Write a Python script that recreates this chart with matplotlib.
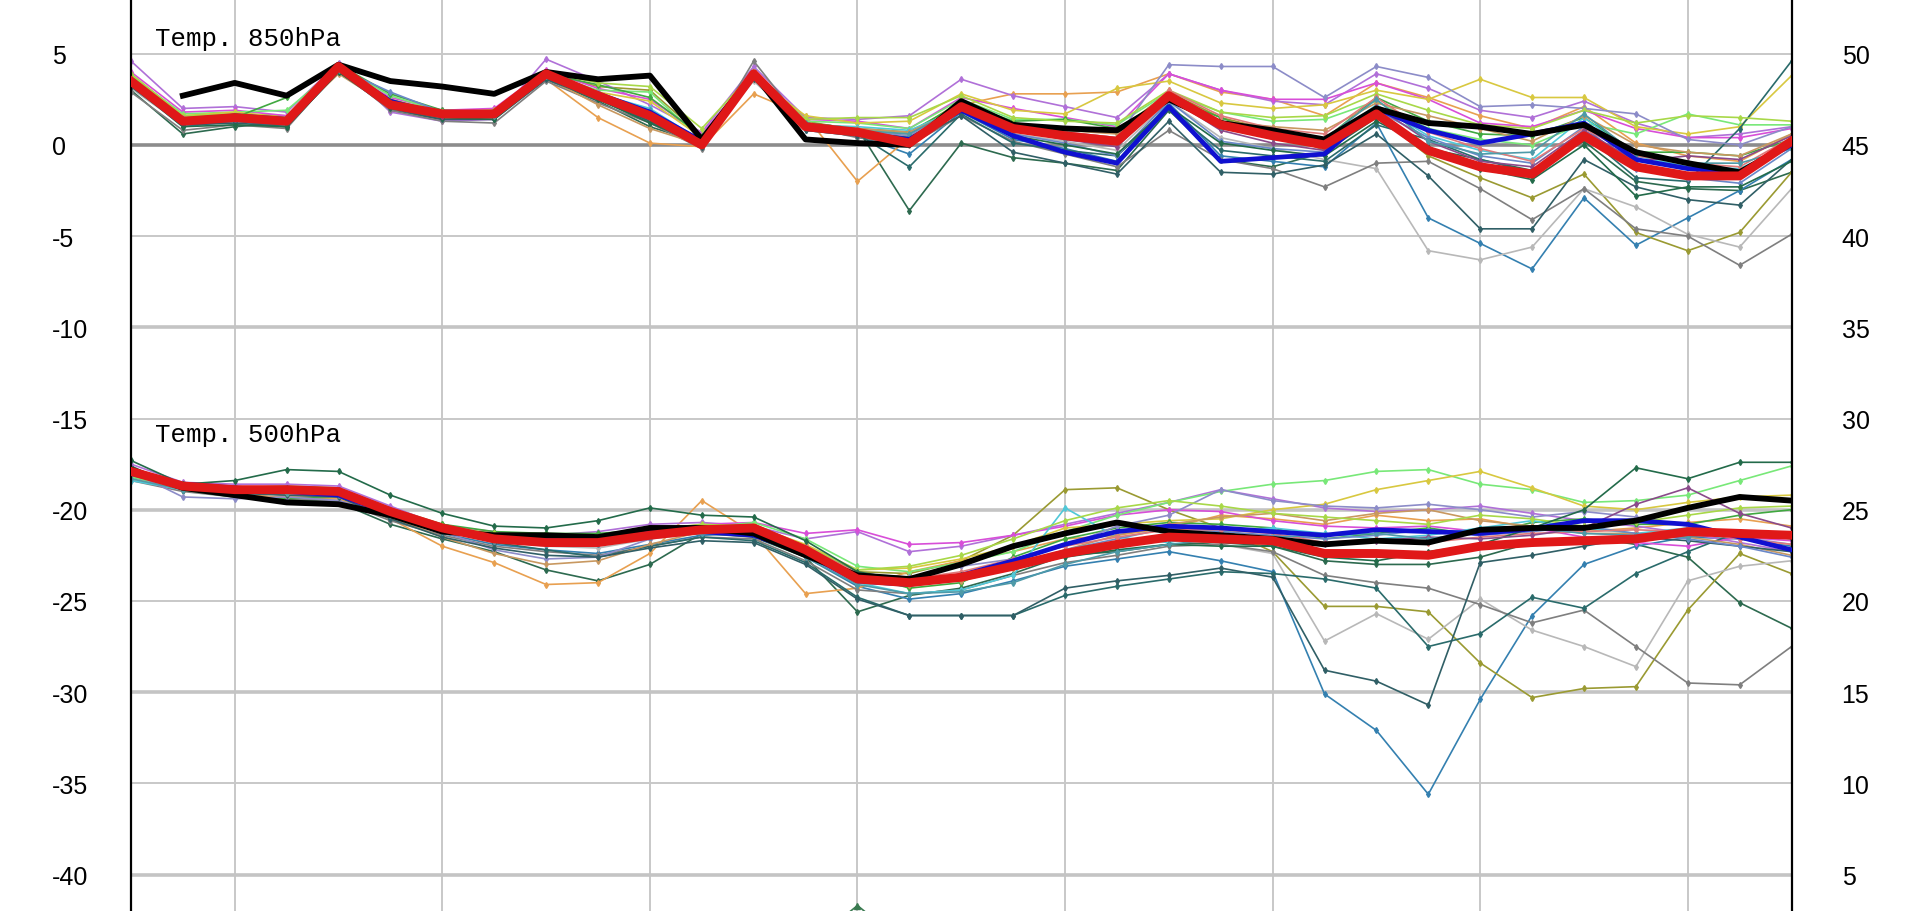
import numpy as np
import matplotlib
matplotlib.use("Agg")
import matplotlib.pyplot as plt

plt.rcParams["axes.unicode_minus"] = False

nan = np.nan
steps = list(range(33))

# Thick lines, 850 hPa
mean_850 = [3.5, 1.3, 1.5, 1.3, 4.3, 2.2, 1.7, 1.7, 3.9, 2.7, 1.6, 0.0, 3.9, 1.0, 0.7, 0.1, 2.1,
            0.9, 0.5, 0.2, 2.7, 1.1, 0.5, 0.0, 1.7, -0.3, -1.2, -1.6, 0.5, -1.2, -1.7, -1.7, 0.2]
oper_850 = [nan, 2.7, 3.4, 2.7, 4.4, 3.5, 3.2, 2.8, 4.0, 3.6, 3.8, 0.3, 3.9, 0.3, 0.1, 0.0, 2.4,
            1.1, 0.9, 0.8, 2.5, 1.2, 0.8, 0.3, 2.0, 1.2, 1.0, 0.6, 1.1, -0.4, -1.0, -1.5, 0.1]
ctrl_850 = [3.4, 1.2, 1.6, 1.4, 4.2, 2.4, 1.6, 1.8, 3.8, 2.8, 1.8, 0.2, 3.8, 1.1, 0.6, 0.3, 1.9,
            0.5, -0.4, -1.0, 2.1, -0.9, -0.7, -0.5, 2.0, 0.8, 0.1, 0.6, 1.2, -0.8, -1.3, -1.5, 0.0]

# Thick lines, 500 hPa
mean_500 = [-17.9, -18.7, -18.9, -18.9, -19.0, -20.1, -21.0, -21.6, -21.8, -21.8, -21.4, -21.1,
            -21.0, -22.2, -23.8, -24.0, -23.7, -23.1, -22.4, -21.9, -21.5, -21.6, -21.7, -22.4,
            -22.4, -22.5, -22.0, -21.8, -21.7, -21.6, -21.2, -21.3, -21.4]
oper_500 = [-17.8, -18.8, -19.2, -19.6, -19.7, -20.3, -21.2, -21.4, -21.4, -21.5, -21.0, -21.0,
            -21.3, -22.5, -23.6, -23.8, -23.0, -22.0, -21.3, -20.7, -21.2, -21.4, -21.6, -21.9,
            -21.7, -21.8, -21.1, -21.0, -21.0, -20.6, -19.9, -19.3, -19.5]
ctrl_500 = [-18.0, -18.6, -18.8, -19.0, -19.2, -20.2, -21.1, -21.5, -21.6, -21.6, -21.2, -21.2,
            -21.4, -22.4, -23.9, -24.1, -23.6, -22.8, -21.9, -21.2, -20.9, -21.0, -21.2, -21.4,
            -21.1, -21.2, -21.3, -21.05, -20.6, -20.6, -20.8, -21.5, -22.2]

member_colors = ["#2d6a4f", "#3480b0", "#9a9a32", "#e8a050", "#b070d8", "#d84ed8", "#78e878",
                 "#d8c840", "#b8b8b8", "#7f7f7f", "#2a6b6b", "#40a840", "#50c8d8", "#8c8cc8",
                 "#c89860", "#305f66", "#6a88c8", "#a8d848", "#e07a7a", "#236b4a", "#8a4a8a",
                 "#4e9aa8"]

members_850 = [
    [3.0, 0.6, 1.0, 1.2, 4.3, 1.9, 1.4, 1.5, 3.6, 2.4, 1.0, 0.1, 3.7, 1.2, 0.9, -3.6, 0.1, -0.7, -1.0, -1.4, 1.9, -0.8, -1.2, -0.4, 1.5, -0.2, -0.8, -1.4, 0.2, -2.0, -2.4, -2.5, -1.5],
    [3.3, 1.0, 1.3, 1.0, 4.0, 2.0, 1.5, 1.6, 3.7, 2.5, 1.3, -0.1, 3.6, 0.8, 0.5, -0.5, 1.8, 0.3, -0.2, -0.9, 2.3, -0.6, -0.9, -1.2, 1.2, -4.0, -5.4, -6.8, -2.9, -5.5, -4.0, -2.5, -0.8],
    [3.6, 1.5, 1.7, 1.6, 4.4, 2.5, 1.8, 1.9, 4.0, 3.2, 3.0, 0.5, 4.1, 1.3, 0.8, 0.6, 2.4, 1.2, 0.9, 0.7, 2.9, 1.5, 0.8, -0.3, 1.6, -0.6, -1.8, -2.9, -1.6, -4.8, -5.8, -4.8, -1.5],
    [3.2, 1.4, 1.6, 1.2, 4.1, 2.0, 1.6, 1.7, 3.6, 1.5, 0.1, -0.1, 2.8, 1.6, -2.0, 0.4, 2.2, 2.8, 2.8, 2.9, 3.9, 2.9, 2.5, 1.6, 3.4, 2.6, 1.6, 0.9, 2.1, 0.1, -0.6, -0.9, 0.6],
    [4.6, 2.0, 2.1, 1.8, 4.5, 1.8, 1.3, 1.4, 4.7, 3.5, 2.2, 0.7, 4.3, 1.5, 1.4, 1.6, 3.6, 2.7, 2.1, 1.5, 3.9, 3.0, 2.4, 2.2, 3.9, 3.1, 1.9, 1.5, 2.4, 1.2, 0.4, 0.6, 1.0],
    [4.0, 1.8, 1.9, 1.6, 4.2, 2.6, 1.9, 2.0, 4.1, 3.1, 2.5, 0.6, 4.0, 1.4, 1.3, 0.9, 2.6, 2.0, 1.5, 1.0, 3.9, 3.0, 2.5, 2.5, 3.4, 2.5, 1.2, 1.0, 1.9, 0.9, 0.4, 0.4, 0.9],
    [3.8, 1.7, 1.8, 1.9, 4.3, 2.7, 1.8, 1.8, 3.9, 3.0, 2.9, 0.3, 3.8, 1.3, 1.2, 0.9, 2.5, 1.4, 1.4, 1.1, 2.9, 1.8, 1.3, 1.4, 2.4, 0.9, 0.3, 0.0, 1.2, 0.6, 1.7, 1.1, 1.1],
    [3.7, 1.6, 1.8, 1.5, 4.2, 2.4, 1.7, 1.8, 3.8, 2.9, 2.4, 0.4, 3.7, 1.6, 1.2, 1.3, 2.8, 1.9, 1.7, 3.1, 3.5, 2.3, 2.0, 2.2, 3.0, 2.5, 3.6, 2.6, 2.6, 1.0, 0.6, 1.0, 3.8],
    [3.1, 1.1, 1.4, 1.3, 4.0, 2.1, 1.5, 1.5, 3.7, 2.6, 1.5, 0.2, 3.5, 0.9, 0.7, 0.3, 1.9, 0.6, 0.2, -0.3, 2.4, 0.4, -0.2, -0.8, -1.3, -5.8, -6.3, -5.6, -2.4, -3.4, -4.9, -5.6, -2.4],
    [2.9, 0.8, 1.1, 0.9, 4.1, 1.9, 1.3, 1.2, 3.5, 2.3, 1.2, -0.2, 4.6, 1.0, 0.4, 0.0, 1.6, 0.2, -0.5, -1.2, 0.8, -0.8, -1.3, -2.3, -1.0, -0.9, -2.4, -4.1, -2.4, -4.6, -5.0, -6.6, -4.9],
    [3.4, 1.2, 1.3, 1.1, 4.3, 2.3, 1.7, 1.6, 3.8, 2.6, 1.4, 0.0, 3.8, 0.9, 0.6, -1.2, 1.7, 0.1, -0.3, -0.6, 2.0, -0.3, -0.6, -0.9, 1.1, 0.3, -0.8, -1.5, 0.6, -1.8, -2.0, 0.9, 4.6],
    [3.6, 1.4, 1.5, 2.6, 4.4, 2.8, 1.9, 1.8, 3.9, 3.3, 2.6, 0.5, 3.9, 1.2, 0.9, 0.7, 2.3, 1.3, 1.4, 0.9, 2.6, 1.5, 0.4, 0.3, 2.6, 1.3, 0.6, 0.5, 1.5, -0.4, -0.4, -0.6, 0.3],
    [3.3, 1.3, 1.5, 1.3, 4.1, 2.3, 1.6, 1.6, 3.8, 2.8, 2.0, 0.2, 3.8, 1.1, 1.0, 0.8, 2.0, 0.9, 0.4, 0.1, 2.5, 0.9, 0.4, 0.1, 2.2, 0.5, -0.3, -0.8, 1.5, -0.6, -1.2, -1.3, 0.0],
    [3.5, 1.4, 1.6, 1.4, 4.2, 2.2, 1.7, 1.7, 3.9, 2.9, 1.7, 0.1, 3.9, 1.2, 0.8, 0.5, 2.2, 1.0, 0.7, 0.4, 4.4, 4.3, 4.3, 2.6, 4.3, 3.7, 2.1, 2.2, 2.0, 1.7, 0.3, 0.0, 1.0],
    [3.4, 1.3, 1.4, 1.2, 3.9, 2.1, 1.6, 1.6, 3.7, 2.2, 0.9, 0.0, 3.6, 1.0, 0.9, 0.7, 2.0, 1.0, 0.8, 0.6, 2.6, 1.3, 1.0, 0.8, 2.3, 1.6, 0.9, 0.2, 1.6, 0.0, -0.4, -0.6, 0.6],
    [3.2, 1.1, 1.2, 1.0, 4.0, 2.0, 1.4, 1.4, 3.6, 2.5, 1.3, -0.1, 3.6, 0.8, 0.5, 0.2, 1.6, -0.4, -1.0, -1.6, 1.3, -1.5, -1.6, -1.1, 0.6, -1.7, -4.6, -4.6, -0.8, -2.3, -3.0, -3.3, -0.8],
    [3.5, 1.2, 1.4, 1.2, 4.2, 2.9, 1.8, 1.7, 3.9, 2.6, 1.5, 0.1, 3.7, 1.1, 0.8, 0.4, 2.0, 0.6, 0.1, -0.6, 2.4, 0.2, -0.2, -0.4, 1.9, 0.4, -0.6, -1.0, 1.0, -1.3, -1.8, -2.1, -0.2],
    [3.9, 1.6, 1.7, 1.5, 4.3, 2.4, 1.8, 1.9, 4.0, 3.4, 3.2, 0.9, 4.0, 1.4, 1.5, 1.5, 2.7, 1.5, 1.3, 1.2, 3.0, 1.8, 1.5, 1.6, 2.8, 1.9, 1.1, 0.9, 1.9, 1.2, 1.6, 1.5, 1.3],
    [3.6, 1.5, 1.6, 1.4, 4.2, 2.3, 1.8, 1.8, 4.0, 2.8, 1.8, 0.3, 3.9, 1.1, 0.8, 0.3, 2.2, 1.1, 0.7, 0.4, 3.0, 1.6, 0.9, 0.6, 2.6, 0.7, -0.2, -0.9, 0.9, -0.6, -1.0, -1.2, 0.4],
    [3.3, 1.0, 1.1, 1.0, 4.0, 2.1, 1.5, 1.4, 3.7, 2.5, 1.2, 0.0, 3.7, 1.0, 0.7, 0.4, 2.0, 0.5, 0.0, -0.5, 2.1, 0.1, -0.3, -0.6, 1.3, -0.1, -1.3, -1.9, 0.0, -2.8, -2.3, -2.3, -0.9],
    [3.4, 1.3, 1.4, 1.3, 4.2, 2.2, 1.6, 1.7, 3.8, 2.7, 1.6, 0.1, 3.8, 1.0, 0.7, 0.2, 2.0, 0.8, 0.3, -0.1, 2.6, 0.8, 0.1, -0.3, 2.1, 0.2, -0.9, -1.2, 0.8, -0.9, -0.6, -0.8, 0.5],
    [3.5, 1.4, 1.5, 1.5, 4.1, 2.3, 1.7, 1.6, 3.8, 2.8, 1.9, 0.2, 3.8, 1.2, 0.8, 0.6, 2.1, 0.8, 0.4, 0.2, 2.7, 1.0, 0.5, 0.3, 2.5, 0.2, -0.5, -0.4, 1.7, -0.5, -1.0, -1.0, -0.2],
]

members_500 = [
    [-17.6, -18.9, -19.1, -19.4, -19.6, -20.8, -21.6, -22.3, -23.3, -23.9, -23.0, -21.3, -21.5, -22.6, -25.6, -24.7, -24.3, -23.5, -22.5, -22.3, -21.9, -21.8, -22.0, -22.8, -23.0, -23.0, -22.6, -21.8, -21.5, -21.9, -22.6, -25.1, -26.5],
    [-18.2, -18.8, -19.0, -19.2, -19.3, -20.4, -21.3, -21.9, -22.2, -22.4, -21.9, -21.4, -21.3, -22.6, -24.2, -24.9, -24.6, -23.9, -23.1, -22.7, -22.3, -22.8, -23.4, -30.1, -32.1, -35.6, -30.4, -25.8, -23.0, -22.0, -21.5, -21.6, -22.0],
    [-17.7, -18.6, -18.8, -18.7, -18.8, -19.9, -20.8, -21.4, -21.6, -21.5, -21.1, -20.9, -20.8, -22.0, -23.4, -23.5, -22.8, -21.4, -18.9, -18.8, -20.0, -21.0, -22.3, -25.3, -25.3, -25.6, -28.4, -30.3, -29.8, -29.7, -25.5, -22.4, -23.5],
    [-18.3, -18.9, -19.2, -19.3, -19.4, -20.5, -22.0, -22.9, -24.1, -24.0, -22.4, -19.5, -21.3, -24.6, -24.3, -23.4, -22.8, -22.3, -21.6, -21.4, -21.0, -20.3, -20.5, -20.8, -20.3, -20.6, -20.5, -21.0, -21.2, -21.0, -20.7, -20.5, -20.9],
    [-17.5, -18.5, -18.6, -18.6, -18.7, -19.8, -20.9, -21.5, -21.4, -21.2, -20.8, -20.7, -20.9, -21.6, -21.2, -22.3, -22.0, -21.4, -20.8, -20.2, -19.6, -18.9, -19.4, -19.9, -20.1, -20.0, -19.8, -20.2, -20.6, -20.9, -21.3, -21.8, -22.3],
    [-18.1, -18.7, -18.9, -19.0, -19.1, -20.0, -20.9, -21.2, -21.5, -21.6, -21.2, -20.8, -20.7, -21.3, -21.1, -21.9, -21.8, -21.4, -20.9, -20.3, -20.0, -20.1, -20.6, -20.9, -21.0, -20.9, -21.2, -21.0, -21.5, -21.8, -22.0, -21.5, -21.7],
    [-18.2, -18.8, -19.2, -19.5, -19.6, -20.3, -21.1, -21.7, -21.9, -21.7, -21.3, -21.0, -20.7, -21.6, -23.1, -23.4, -22.9, -22.3, -21.2, -20.3, -19.6, -19.0, -18.6, -18.4, -17.9, -17.8, -18.6, -18.9, -19.6, -19.5, -19.2, -18.4, -17.6],
    [-17.8, -18.6, -18.8, -18.9, -19.0, -20.0, -21.0, -21.5, -21.7, -21.6, -21.3, -21.1, -20.9, -21.9, -23.3, -23.2, -22.7, -22.0, -21.0, -20.8, -20.6, -20.5, -20.0, -19.7, -18.9, -18.4, -17.9, -18.8, -19.8, -20.0, -19.6, -19.3, -19.2],
    [-18.0, -18.8, -19.0, -19.1, -19.2, -20.2, -21.1, -21.7, -22.0, -22.1, -21.6, -21.3, -21.2, -22.3, -24.0, -24.2, -23.8, -23.0, -22.3, -21.8, -21.4, -21.9, -22.4, -27.2, -25.7, -27.1, -24.9, -26.6, -27.5, -28.6, -23.9, -23.1, -22.8],
    [-18.4, -19.0, -19.3, -19.4, -19.5, -20.6, -21.4, -22.0, -22.3, -22.5, -22.0, -21.5, -21.6, -22.8, -24.4, -24.6, -24.4, -23.6, -22.9, -22.5, -22.0, -21.9, -22.3, -23.6, -24.0, -24.3, -25.2, -26.2, -25.5, -27.5, -29.5, -29.6, -27.5],
    [-17.7, -18.7, -18.8, -18.8, -18.9, -20.0, -21.0, -21.8, -22.2, -22.6, -22.0, -21.5, -21.7, -22.9, -24.8, -25.8, -25.8, -25.8, -24.7, -24.2, -23.8, -23.4, -23.5, -23.8, -24.3, -27.5, -26.8, -24.8, -25.4, -23.5, -22.3, -21.2, -21.6],
    [-17.9, -18.9, -19.3, -19.4, -19.3, -20.0, -20.8, -21.2, -21.3, -21.3, -21.1, -21.0, -21.2, -22.3, -23.5, -24.3, -24.0, -22.6, -21.6, -21.0, -20.7, -20.8, -21.0, -21.6, -21.3, -21.0, -21.4, -20.7, -20.5, -20.8, -20.8, -20.3, -20.0],
    [-18.4, -18.9, -19.0, -19.1, -19.3, -20.3, -21.2, -21.7, -21.9, -21.9, -21.5, -21.3, -21.2, -22.4, -24.0, -24.6, -24.4, -23.6, -19.9, -21.5, -21.8, -21.2, -21.0, -21.3, -21.6, -21.4, -21.0, -20.6, -21.0, -21.3, -21.0, -21.2, -21.4],
    [-17.9, -19.3, -19.4, -19.3, -19.5, -20.3, -21.2, -22.2, -22.7, -22.6, -21.6, -21.1, -21.0, -22.0, -23.5, -23.7, -23.1, -22.7, -22.0, -20.9, -20.3, -18.9, -19.5, -19.8, -19.9, -19.7, -20.0, -20.4, -20.1, -20.4, -20.9, -21.5, -21.9],
    [-18.0, -18.7, -19.0, -19.2, -19.3, -20.4, -21.5, -22.4, -23.0, -22.8, -21.9, -21.2, -21.1, -22.2, -23.6, -24.1, -23.9, -23.2, -22.2, -21.4, -20.8, -20.4, -20.2, -20.6, -20.2, -20.0, -20.6, -20.9, -21.3, -21.3, -21.5, -21.9, -22.5],
    [-17.8, -18.9, -19.1, -19.2, -19.3, -20.5, -21.5, -22.1, -22.5, -22.6, -22.1, -21.7, -21.8, -23.0, -24.9, -25.8, -25.8, -25.8, -24.3, -23.9, -23.6, -23.2, -23.7, -28.8, -29.4, -30.7, -22.9, -22.5, -22.0, -21.5, -21.7, -22.0, -22.3],
    [-18.1, -18.8, -19.0, -19.0, -19.1, -20.1, -21.0, -21.5, -21.7, -21.6, -21.2, -21.0, -21.1, -22.1, -23.7, -24.0, -23.6, -23.0, -22.2, -21.6, -21.0, -21.2, -21.4, -21.6, -21.4, -21.1, -21.4, -21.2, -20.9, -21.3, -21.6, -22.0, -22.6],
    [-17.9, -18.6, -18.9, -19.1, -19.2, -20.0, -20.9, -21.3, -21.6, -21.5, -21.1, -20.8, -20.9, -22.0, -23.3, -23.1, -22.5, -21.6, -20.6, -19.9, -19.5, -19.8, -20.2, -20.4, -20.6, -20.8, -20.3, -20.5, -20.9, -20.7, -20.3, -19.9, -19.8],
    [-18.0, -18.7, -18.9, -19.0, -19.1, -20.2, -21.1, -21.6, -21.8, -21.7, -21.3, -21.0, -21.0, -22.0, -23.5, -23.8, -23.4, -22.7, -22.0, -21.5, -21.1, -21.1, -21.3, -21.8, -21.6, -21.8, -21.5, -21.3, -21.2, -21.1, -21.2, -21.6, -21.9],
    [-17.3, -18.6, -18.4, -17.8, -17.9, -19.2, -20.2, -20.9, -21.0, -20.6, -19.9, -20.3, -20.4, -21.7, -23.4, -23.9, -23.6, -23.0, -22.6, -22.2, -21.9, -22.0, -22.0, -22.6, -22.8, -22.3, -21.9, -21.0, -20.0, -17.7, -18.3, -17.4, -17.4],
    [-17.9, -18.8, -19.0, -19.0, -19.2, -20.2, -21.1, -21.7, -21.9, -21.9, -21.5, -21.2, -21.1, -22.2, -23.8, -24.0, -23.7, -23.1, -22.4, -21.9, -21.5, -21.5, -21.6, -21.9, -21.7, -21.5, -21.6, -21.4, -21.0, -19.7, -18.8, -20.2, -21.0],
    [-18.3, -18.9, -19.1, -19.1, -19.2, -20.3, -21.2, -21.7, -21.9, -21.9, -21.5, -21.3, -21.4, -22.6, -24.1, -24.6, -24.5, -24.0, -23.0, -22.3, -21.9, -21.6, -21.5, -21.4, -21.3, -21.6, -21.2, -21.0, -21.3, -21.4, -21.5, -21.2, -21.4],
]

# tip of a line from the panel below
tip_steps = [13, 14, 15]
tip_vals = [-44.0, -41.7, -44.0]

left_ticks = [5, 0, -5, -10, -15, -20, -25, -30, -35, -40]
right_ticks = [50, 45, 40, 35, 30, 25, 20, 15, 10, 5]

fig = plt.figure(figsize=(19.2, 9.12), dpi=100)
ax = fig.add_axes([0.0682, 0.0, 0.8649, 1.0])
ax.set_xlim(0, 32)
ax.set_ylim(-42.0, 8.0)

# grid
for s in range(2, 32, 4):
    ax.axvline(s, color="#c8c8c8", lw=1.4, zorder=0)
for v in left_ticks:
    if v == 0:
        ax.axhline(v, color="#8c8c8c", lw=2.6, zorder=0)
    elif v % 10 == 0:
        ax.axhline(v, color="#c4c4c4", lw=2.6, zorder=0)
    else:
        ax.axhline(v, color="#c8c8c8", lw=1.4, zorder=0)

for vals, c in zip(members_850, member_colors):
    ax.plot(steps, vals, color=c, lw=1.2, marker="d", ms=3, zorder=2)
for vals, c in zip(members_500, member_colors):
    ax.plot(steps, vals, color=c, lw=1.2, marker="d", ms=3, zorder=2)
ax.plot(tip_steps, tip_vals, color="#3a7a50", lw=1.2, marker="^", ms=5, zorder=2)

for m, o, c in [(mean_850, oper_850, ctrl_850), (mean_500, oper_500, ctrl_500)]:
    ax.plot(steps, c, color="#1010d0", lw=3.4, zorder=3)
    ax.plot(steps, o, color="black", lw=4.2, zorder=4)
    ax.plot(steps, m, color="#e01818", lw=6.4, zorder=5)

ax.text(0.46, 5.86, "Temp. 850hPa", family="Liberation Mono", fontsize=18.5, va="center", ha="left")
ax.text(0.46, -15.83, "Temp. 500hPa", family="Liberation Mono", fontsize=18.5, va="center", ha="left")

for sp in ["top", "bottom"]:
    ax.spines[sp].set_visible(False)
for sp in ["left", "right"]:
    ax.spines[sp].set_linewidth(1.6)
    ax.spines[sp].set_color("black")

ax.set_xticks([])
ax.set_yticks(left_ticks)
ax.set_yticklabels([str(v) for v in left_ticks], family="Liberation Sans", fontsize=18, ha="left")
ax.tick_params(axis="y", length=0, pad=57)

ax2 = ax.twinx()
ax2.set_ylim(-42.0 + 45, 8.0 + 45)
ax2.set_yticks(right_ticks)
ax2.set_yticklabels([str(v) for v in right_ticks], family="Liberation Sans", fontsize=18)
ax2.tick_params(axis="y", length=0, pad=36)
for sp in ["top", "bottom", "left", "right"]:
    ax2.spines[sp].set_visible(False)

fig.savefig("out.png", dpi=100)
